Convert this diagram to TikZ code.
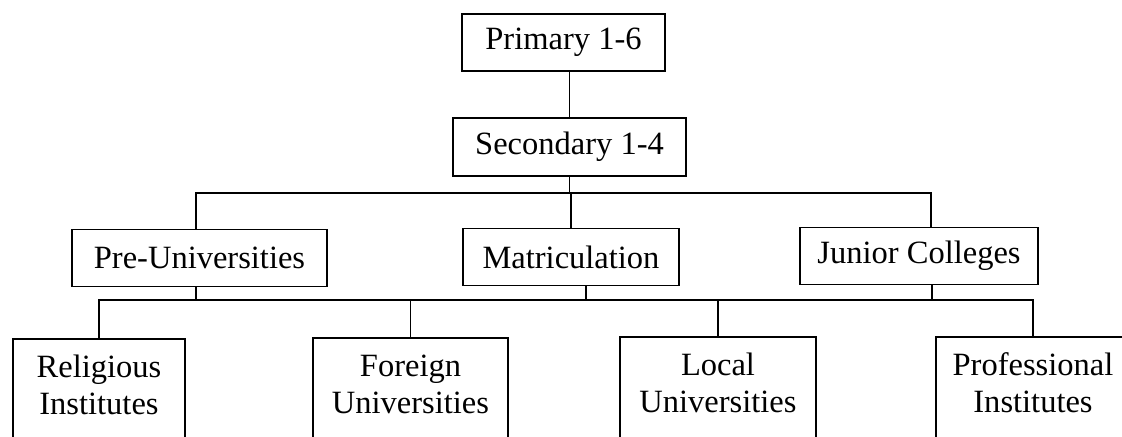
\documentclass[tikz,border=0pt]{standalone}
\usepackage{fontspec}
\setmainfont{Liberation Serif}
\usepackage{tikz}
\usetikzlibrary{positioning}

\begin{document}
\begin{tikzpicture}[
    x=0.02cm, y=-0.02cm,
    font=\fontsize{18.5}{21.5}\selectfont,
    unitbox/.style={draw, line width=1pt, inner sep=0pt, minimum height=1.14cm, align=center},
    leafbox/.style={draw, line width=1pt, anchor=north, inner xsep=0pt, inner ysep=0pt, text height=1.52cm, text depth=1.2cm, align=center},
    link/.style={line width=1pt}
]

    \useasboundingbox (0,0) rectangle (1122,436);

    \node[unitbox, minimum width=4.06cm] (prim) at (563.5,42.5) {Primary 1-6};
    \node[unitbox, minimum width=4.66cm, minimum height=1.16cm] (sec) at (569.5,147) {Secondary 1-4};

    \node[unitbox, minimum width=5.10cm] (preu) at (199.5,258) {Pre-Universities};
    \node[unitbox, minimum width=4.32cm] (matric) at (571,257) {Matriculation};
    \node[unitbox, minimum width=4.76cm] (junior) at (919,256) {Junior Colleges};

    \node[leafbox, minimum width=3.44cm] (relig) at (99,338) {Religious\\Institutes};
    \node[leafbox, minimum width=3.90cm] (foreign) at (410.5,337) {Foreign\\Universities};
    \node[leafbox, minimum width=3.92cm] (local) at (718,336) {Local\\Universities};
    \node[leafbox, minimum width=3.88cm] (prof) at (1033,336) {Professional\\Institutes};

    \coordinate (upbus) at (0,193);
    \coordinate (lowbus) at (0,300);

    \draw[link] (sec.north) -- (sec.north |- prim.south);
    \draw[link] (sec.south) -- (sec.south |- upbus);
    \draw[link] ([xshift=-0.07cm]preu.north) |- ([xshift=0.24cm]junior.north |- upbus) -- ([xshift=0.24cm]junior.north);
    \draw[link] (matric.north) -- (matric.north |- upbus);

    \draw[link] (relig.north) |- (prof.north |- lowbus) -- (prof.north);
    \draw[link] ([xshift=-0.07cm]preu.south) -- ([xshift=-0.07cm]preu.south |- lowbus);
    \draw[link] ([xshift=0.3cm]matric.south) -- ([xshift=0.3cm]matric.south |- lowbus);
    \draw[link] ([xshift=0.26cm]junior.south) -- ([xshift=0.26cm]junior.south |- lowbus);
    \draw[link] (foreign.north) -- (foreign.north |- lowbus);
    \draw[link] (local.north) -- (local.north |- lowbus);

\end{tikzpicture}
\end{document}
